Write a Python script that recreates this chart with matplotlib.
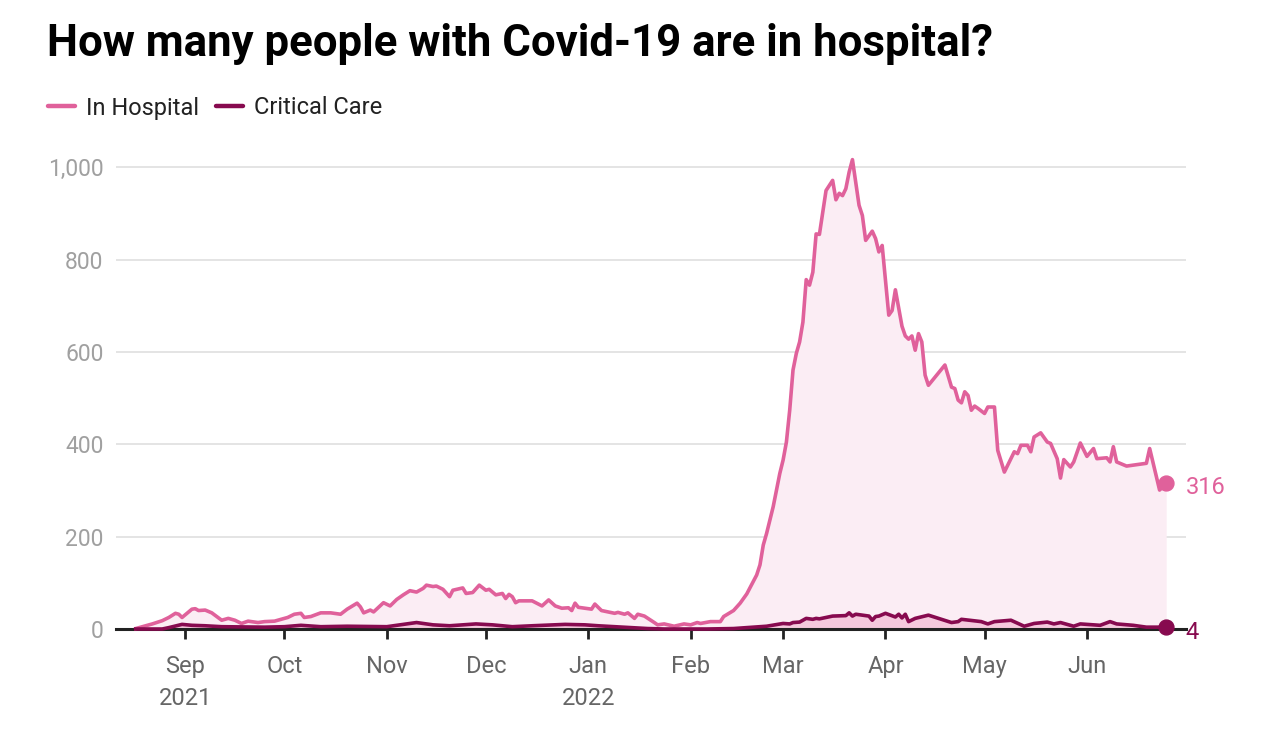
import pandas as pd
import matplotlib
matplotlib.use("Agg")
import matplotlib.pyplot as plt
from matplotlib.lines import Line2D

# daily patients with Covid-19
hosp_dates = [
    "2021-08-17", "2021-08-22", "2021-08-25", "2021-08-27", "2021-08-29", "2021-08-30", "2021-08-31",
    "2021-09-03", "2021-09-04", "2021-09-05", "2021-09-07", "2021-09-09", "2021-09-12", "2021-09-14",
    "2021-09-16", "2021-09-18", "2021-09-20", "2021-09-23", "2021-09-25", "2021-09-28",
    "2021-10-01", "2021-10-02", "2021-10-04", "2021-10-06", "2021-10-07", "2021-10-09", "2021-10-12",
    "2021-10-15", "2021-10-18", "2021-10-20", "2021-10-23", "2021-10-24", "2021-10-25", "2021-10-27",
    "2021-10-28", "2021-10-31",
    "2021-11-02", "2021-11-04", "2021-11-06", "2021-11-08", "2021-11-10", "2021-11-12", "2021-11-13",
    "2021-11-15", "2021-11-16", "2021-11-18", "2021-11-20", "2021-11-21", "2021-11-24", "2021-11-25",
    "2021-11-27", "2021-11-29",
    "2021-12-01", "2021-12-02", "2021-12-04", "2021-12-06", "2021-12-07", "2021-12-08", "2021-12-09",
    "2021-12-10", "2021-12-11", "2021-12-15", "2021-12-18", "2021-12-20", "2021-12-22", "2021-12-24",
    "2021-12-26", "2021-12-27", "2021-12-28", "2021-12-29", "2021-12-31",
    "2022-01-02", "2022-01-03", "2022-01-05", "2022-01-09", "2022-01-10", "2022-01-12", "2022-01-13",
    "2022-01-15", "2022-01-16", "2022-01-18", "2022-01-21", "2022-01-22", "2022-01-24", "2022-01-27",
    "2022-01-30",
    "2022-02-01", "2022-02-03", "2022-02-04", "2022-02-07", "2022-02-10", "2022-02-11", "2022-02-14",
    "2022-02-16", "2022-02-18", "2022-02-21", "2022-02-22", "2022-02-23", "2022-02-24", "2022-02-26",
    "2022-02-28",
    "2022-03-01", "2022-03-02", "2022-03-03", "2022-03-04", "2022-03-05", "2022-03-06", "2022-03-07",
    "2022-03-08", "2022-03-09", "2022-03-10", "2022-03-11", "2022-03-12", "2022-03-14", "2022-03-16",
    "2022-03-17", "2022-03-18", "2022-03-19", "2022-03-20", "2022-03-21", "2022-03-22", "2022-03-24",
    "2022-03-25", "2022-03-26", "2022-03-28", "2022-03-29", "2022-03-30", "2022-03-31",
    "2022-04-02", "2022-04-03", "2022-04-04", "2022-04-06", "2022-04-07", "2022-04-08", "2022-04-09",
    "2022-04-10", "2022-04-11", "2022-04-12", "2022-04-13", "2022-04-14", "2022-04-19", "2022-04-21",
    "2022-04-22", "2022-04-23", "2022-04-24", "2022-04-25", "2022-04-26", "2022-04-27", "2022-04-28",
    "2022-04-29",
    "2022-05-01", "2022-05-02", "2022-05-04", "2022-05-05", "2022-05-07", "2022-05-10", "2022-05-11",
    "2022-05-12", "2022-05-14", "2022-05-15", "2022-05-16", "2022-05-18", "2022-05-20", "2022-05-21",
    "2022-05-23", "2022-05-24", "2022-05-25", "2022-05-27", "2022-05-28", "2022-05-30",
    "2022-06-01", "2022-06-03", "2022-06-04", "2022-06-07", "2022-06-08", "2022-06-09", "2022-06-10",
    "2022-06-13", "2022-06-19", "2022-06-20", "2022-06-23", "2022-06-25",
]
hosp_values = [
    1, 11, 18, 25, 34, 32, 25,
    43, 44, 40, 41, 35, 19, 23,
    19, 12, 17, 14, 16, 17,
    23, 25, 32, 34, 25, 27, 35,
    35, 32, 43, 56, 48, 35, 41,
    37, 57,
    50, 64, 74, 83, 80, 88, 95,
    92, 93, 86, 70, 84, 89, 77,
    79, 95,
    84, 86, 74, 77, 66, 75, 70,
    57, 61, 61, 50, 63, 50, 45,
    46, 40, 56, 47, 45,
    43, 54, 40, 34, 36, 32, 35,
    23, 32, 28, 14, 9, 11, 6,
    11,
    9, 14, 12, 16, 16, 27, 40,
    56, 76, 117, 139, 182, 207, 265,
    337,
    366, 405, 474, 561, 597, 622, 665,
    757, 745, 773, 856, 855, 950, 972,
    930, 944, 939, 954, 990, 1017, 918,
    896, 842, 862, 846, 817, 831,
    680, 690, 735, 656, 635, 628, 635,
    604, 640, 622, 550, 528, 572, 524,
    521, 496, 490, 514, 506, 474, 483,
    478,
    467, 481, 481, 387, 340, 384, 380,
    398, 398, 384, 416, 425, 405, 402,
    369, 327, 367, 351, 362, 403,
    374, 391, 369, 371, 362, 395, 362,
    353, 359, 391, 301, 316,
]

crit_dates = [
    "2021-08-17", "2021-08-25", "2021-08-27", "2021-08-31", "2021-09-03", "2021-09-07", "2021-09-12",
    "2021-09-25", "2021-10-01", "2021-10-06", "2021-10-12", "2021-10-20", "2021-11-01", "2021-11-06",
    "2021-11-10", "2021-11-12", "2021-11-15", "2021-11-20", "2021-11-28", "2021-12-03", "2021-12-09",
    "2021-12-15", "2021-12-25", "2021-12-31", "2022-01-04", "2022-01-14", "2022-01-19", "2022-01-24",
    "2022-02-06", "2022-02-14", "2022-02-24", "2022-03-01", "2022-03-03", "2022-03-04", "2022-03-06",
    "2022-03-08", "2022-03-10", "2022-03-11", "2022-03-12", "2022-03-16", "2022-03-20", "2022-03-21",
    "2022-03-22", "2022-03-23", "2022-03-27", "2022-03-28", "2022-03-29", "2022-03-30", "2022-04-01",
    "2022-04-04", "2022-04-05", "2022-04-06", "2022-04-07", "2022-04-08", "2022-04-10", "2022-04-14",
    "2022-04-21", "2022-04-23", "2022-04-24", "2022-04-30", "2022-05-02", "2022-05-04", "2022-05-09",
    "2022-05-13", "2022-05-16", "2022-05-20", "2022-05-22", "2022-05-24", "2022-05-28", "2022-05-30",
    "2022-06-05", "2022-06-08", "2022-06-10", "2022-06-15", "2022-06-19", "2022-06-25",
]
crit_values = [
    0, 0, 3, 10, 8, 7, 5,
    4, 5, 8, 5, 6, 5, 10,
    14, 12, 9, 7, 11, 9, 5,
    7, 10, 9, 7, 3, 1, 0,
    0, 1, 6, 12, 11, 14, 15,
    23, 21, 23, 22, 28, 29, 35,
    28, 32, 28, 19, 27, 28, 34,
    26, 32, 24, 32, 16, 23, 30,
    14, 16, 21, 16, 11, 16, 19,
    6, 12, 15, 11, 14, 6, 11,
    8, 16, 11, 8, 4, 4,
]

month_ticks = ["2021-09-01", "2021-10-01", "2021-11-01", "2021-12-01", "2022-01-01",
               "2022-02-01", "2022-03-01", "2022-04-01", "2022-05-01", "2022-06-01"]
month_labels = ["Sep\n2021", "Oct", "Nov", "Dec", "Jan\n2022", "Feb", "Mar", "Apr", "May", "Jun"]

hosp = pd.Series(hosp_values, index=pd.to_datetime(hosp_dates))
crit = pd.Series(crit_values, index=pd.to_datetime(crit_dates))

PINK = "#e0619b"
DARK = "#870a4f"
plt.rcParams["font.family"] = ["Roboto", "DejaVu Sans"]

fig = plt.figure(figsize=(12.76, 7.30), dpi=100)
ax = fig.add_axes([116 / 1276, 101 / 730, 1070 / 1276, 480 / 730])

ax.fill_between(hosp.index, hosp.values, color="#fbedf4", lw=0, zorder=1)
ax.fill_between(crit.index, crit.values, color="#f5c9dd", lw=0, zorder=2)
ax.plot(hosp.index, hosp.values, color=PINK, lw=2.6, zorder=4, clip_on=False)
ax.plot(crit.index, crit.values, color=DARK, lw=2.6, zorder=5, clip_on=False)
ax.scatter([hosp.index[-1]], [hosp.values[-1]], s=115, color=PINK, zorder=6, clip_on=False)
ax.scatter([crit.index[-1]], [crit.values[-1]], s=115, color=DARK, zorder=6, clip_on=False)

ax.set_xlim(pd.Timestamp("2021-08-11"), pd.Timestamp("2022-07-01"))
ax.set_ylim(0, 1040)

ax.set_yticks([0, 200, 400, 600, 800, 1000])
ax.set_yticklabels(["0", "200", "400", "600", "800", "1,000"])
ax.tick_params(axis="y", length=0, pad=9, labelsize=16.5, labelcolor="#a0a0a0")
ax.grid(axis="y", color="#e2e2e2", lw=1.3)
ax.set_axisbelow(True)

ax.set_xticks(pd.to_datetime(month_ticks))
ax.set_xticklabels(month_labels, linespacing=1.5)
ax.tick_params(axis="x", length=7, width=2, color="#222222", pad=12,
               labelsize=17, labelcolor="#666666")

for s in ["top", "right", "left"]:
    ax.spines[s].set_visible(False)
ax.spines["bottom"].set_color("#222222")
ax.spines["bottom"].set_linewidth(2.2)
ax.spines["bottom"].set_zorder(3)

# end labels
ax.annotate(f"{hosp_values[-1]}", (hosp.index[-1], hosp.values[-1]), xytext=(14, -3),
            textcoords="offset points", color=PINK, fontsize=17, va="center", annotation_clip=False)
ax.annotate(f"{crit_values[-1]}", (crit.index[-1], crit.values[-1]), xytext=(14, -4),
            textcoords="offset points", color=DARK, fontsize=17, va="center", annotation_clip=False)

fig.text(47 / 1276, 1 - 44 / 730, "How many people with Covid-19 are in hospital?",
         fontsize=31.5, fontweight="bold", color="black", va="center")

handles = [Line2D([], [], color=PINK, lw=3.2, solid_capstyle="round"),
           Line2D([], [], color=DARK, lw=3.2, solid_capstyle="round")]
fig.legend(handles, ["In Hospital", "Critical Care"], loc="center left",
           bbox_to_anchor=(27 / 1276, 1 - 108 / 730), ncol=2, frameon=False,
           fontsize=17, handlelength=1.15, handletextpad=0.45, columnspacing=0.72,
           labelcolor="#222222")

fig.savefig("out.png", dpi=100)
